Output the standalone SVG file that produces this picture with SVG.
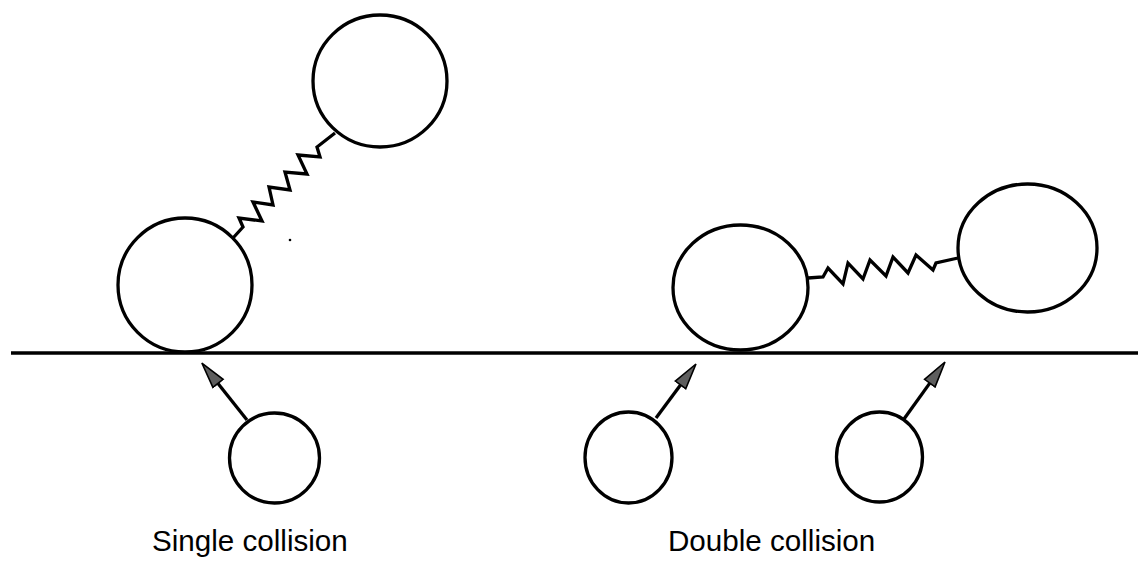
<svg xmlns="http://www.w3.org/2000/svg" width="1138" height="561" viewBox="0 0 1138 561">
  <style>
    .ball { fill: #ffffff; stroke: #000000; stroke-width: 3.3; }
    .spring { fill: none; stroke: #000000; stroke-width: 3.3; stroke-linejoin: miter; }
    .shaft { fill: none; stroke: #000000; stroke-width: 3.3; }
    .wall { stroke: #000000; stroke-width: 3.5; }
    .label { font-family: "Liberation Sans", Arial, sans-serif; font-size: 29.6px; fill: #000000; }
  </style>
  <defs>
    <marker id="head" markerUnits="userSpaceOnUse" markerWidth="30" markerHeight="18" refX="1" refY="8" orient="auto" viewBox="0 0 30 18">
      <path d="M1,1.5 L27,8 L1,14.5 Z" fill="#5e5e5e" stroke="#000000" stroke-width="1.6" stroke-linejoin="miter"/>
    </marker>
  </defs>

  <line id="wall" class="wall" x1="11" y1="353" x2="1138" y2="353"/>

  <g id="connectors">
    <path class="spring" d="M233,238 L243,227 L239,218 L262,221 L253,202 L273,205 L269,187 L290,190 L285,172 L307,174 L298,155 L320,157 L317,147 L335,133"/>
    <path class="spring" d="M808,278 L823,277 L828,268 L843,284 L848,263 L863,279 L870,260 L886,276 L893,257 L908,273 L916,255 L933,270 L936,263 L958,258"/>
    <path class="shaft" d="M247,420 L218,383.4" marker-end="url(#head)"/>
    <path class="shaft" d="M656,418 L680.5,384.9" marker-end="url(#head)"/>
    <path class="shaft" d="M904,419 L929.8,383.1" marker-end="url(#head)"/>
  </g>

  <g id="single-top"><ellipse class="ball" cx="380" cy="81" rx="67" ry="66"/></g>
  <g id="single-bottom"><circle class="ball" cx="185" cy="285" r="67"/></g>
  <g id="single-projectile"><ellipse class="ball" cx="274.5" cy="458" rx="45" ry="45"/></g>

  <g id="double-left"><ellipse class="ball" cx="740.5" cy="287.5" rx="67.5" ry="62.5"/></g>
  <g id="double-right"><ellipse class="ball" cx="1027.5" cy="248" rx="69.5" ry="64"/></g>
  <g id="double-projectile-1"><ellipse class="ball" cx="628.5" cy="457.5" rx="43.5" ry="45.5"/></g>
  <g id="double-projectile-2"><ellipse class="ball" cx="879.5" cy="457" rx="43" ry="45"/></g>

  <circle cx="290" cy="240" r="1.3" fill="#000000"/>

  <g id="labels">
    <text class="label" x="152" y="551">Single collision</text>
    <text class="label" x="668" y="551">Double collision</text>
  </g>
</svg>
